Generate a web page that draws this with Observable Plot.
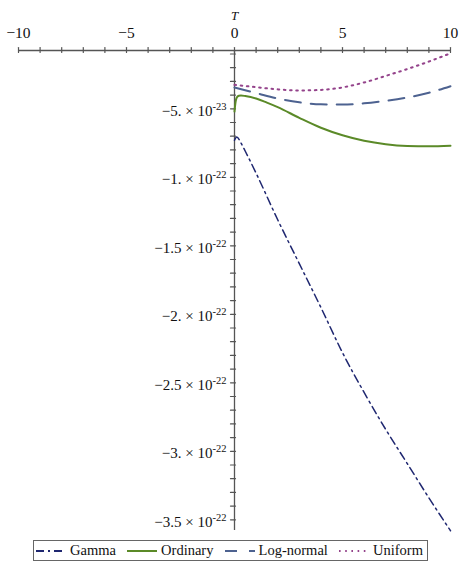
<!DOCTYPE html>
<html>
<head>
<meta charset="utf-8">
<script src="https://cdn.jsdelivr.net/npm/d3@7"></script>
<script src="https://cdn.jsdelivr.net/npm/@observablehq/plot@0.6"></script>
<style>
  body { margin: 0; background: #fff; font-family: "Liberation Serif", "Times New Roman", serif; }
  #chart svg { display: block; }
  #legend {
    box-sizing: border-box;
    width: 395px; height: 21px; margin: 4px 0 0 33px;
    border: 1px solid #666;
    display: flex; align-items: center; justify-content: space-between;
    padding: 0 4px 0 2px;
    font-size: 14.5px; color: #111; white-space: nowrap;
  }
  #legend .item { display: flex; align-items: center; }
  #legend svg { display: block; margin-right: 4px; }
</style>
</head>
<body>
<div id="chart"></div>
<div id="legend"></div>
<script>
// ---------- data ----------
const seriesNames = ["Gamma", "Ordinary", "Log-normal", "Uniform"];

const gammaT = [0, 0.1, 0.3, 0.5, 1, 2, 3, 4, 5, 6, 7, 8, 9, 10];
const gammaV = [-7.3e-23, -7.05e-23, -7.5e-23, -8.1e-23, -9.7e-23, -13.1e-23, -16.3e-23, -19.5e-23,
                -22.8e-23, -25.7e-23, -28.4e-23, -30.9e-23, -33.4e-23, -35.8e-23];

const ordinaryT = [0, 0.05, 0.1, 0.2, 0.3, 0.5, 1, 1.5, 2, 3, 4, 5, 6, 7, 8, 9, 10];
const ordinaryV = [-5.2e-23, -4.5e-23, -4.2e-23, -4.05e-23, -4.03e-23, -4.07e-23, -4.25e-23, -4.55e-23,
                   -4.88e-23, -5.66e-23, -6.38e-23, -6.93e-23, -7.33e-23, -7.58e-23, -7.71e-23, -7.74e-23, -7.70e-23];

const lognormalT = [0, 1, 2, 3, 4, 5, 6, 7, 8, 9, 10];
const lognormalV = [-3.45e-23, -3.85e-23, -4.25e-23, -4.53e-23, -4.67e-23, -4.69e-23,
                    -4.60e-23, -4.42e-23, -4.18e-23, -3.83e-23, -3.35e-23];

const uniformT = [0, 1, 2, 3, 4, 5, 6, 7, 8, 9, 10];
const uniformV = [-3.25e-23, -3.42e-23, -3.58e-23, -3.66e-23, -3.62e-23, -3.44e-23,
                  -3.08e-23, -2.60e-23, -2.10e-23, -1.55e-23, -0.95e-23];

// axis ticks and labels
const xMajorTicks = [-10, -5, 0, 5, 10];
const xTickLabels = ["\u221210", "\u22125", "0", "5", "10"];
const xMinorTicks = d3.range(-10, 10.5, 1);
const yMajorTicks = [-5e-23, -10e-23, -15e-23, -20e-23, -25e-23, -30e-23, -35e-23];
const yTickLabels = ["\u22125. \u00d7 10^-23", "\u22121. \u00d7 10^-22", "\u22121.5 \u00d7 10^-22",
                     "\u22122. \u00d7 10^-22", "\u22122.5 \u00d7 10^-22", "\u22123. \u00d7 10^-22", "\u22123.5 \u00d7 10^-22"];
const yMinorTicks = d3.range(1, 36).map(i => -i * 1e-23);
const xAxisLabel = "T";

// ---------- styles ----------
const styles = {
  "Gamma":      {stroke: "#1f2770", strokeWidth: 1.5, dash: "8,4,2,4"},
  "Ordinary":   {stroke: "#5b8a28", strokeWidth: 2,   dash: null},
  "Log-normal": {stroke: "#4d6290", strokeWidth: 2,   dash: "16,10"},
  "Uniform":    {stroke: "#94438b", strokeWidth: 2,   dash: "1.6,4.6"}
};

const zip = (ts, vs) => ts.map((t, i) => ({t, v: vs[i]}));
const seriesData = {
  "Gamma": zip(gammaT, gammaV),
  "Ordinary": zip(ordinaryT, ordinaryV),
  "Log-normal": zip(lognormalT, lognormalV),
  "Uniform": zip(uniformT, uniformV)
};

const yTop = -0.745e-23, yBottom = -35.78e-23;
const axisColor = "#555";
const tickShapeX = {draw(ctx) { ctx.moveTo(0, 2); ctx.lineTo(0, -3); }};
const tickShapeY = {draw(ctx) { ctx.moveTo(1, 0); ctx.lineTo(-4, 0); }};
const font = '"Liberation Serif", "Times New Roman", serif';

const lineMarks = seriesNames.map(name => Plot.line(seriesData[name], {
  x: "t", y: "v", curve: "monotone-x",
  stroke: styles[name].stroke, strokeWidth: styles[name].strokeWidth,
  strokeDasharray: styles[name].dash || undefined
}));

const chart = Plot.plot({
  width: 463, height: 536,
  marginTop: 50, marginBottom: 6, marginLeft: 18, marginRight: 13,
  x: {domain: [-10, 10], axis: null},
  y: {domain: [yBottom, yTop], axis: null},
  style: {fontFamily: font, background: "#fff", overflow: "visible", color: "#111"},
  marks: [
    Plot.ruleY([yTop], {stroke: axisColor, strokeWidth: 1.3}),
    Plot.ruleX([0], {stroke: axisColor, strokeWidth: 1.3}),
    Plot.vector(xMinorTicks, {x: d => d, y: () => yTop, anchor: "start", length: 5, shape: tickShapeX, stroke: axisColor, strokeWidth: 1.2}),
    Plot.vector(yMinorTicks, {x: () => 0, y: d => d, anchor: "start", length: 5, shape: tickShapeY, stroke: axisColor, strokeWidth: 1.2}),
    Plot.text(xMajorTicks, {x: d => d, y: () => yTop, dy: -17, text: (d, i) => xTickLabels[i], fontSize: 15.5, fill: "#111"}),
    Plot.text([xAxisLabel], {x: () => 0, y: () => yTop, dy: -35, text: d => d, fontSize: 13, fontStyle: "italic", fill: "#111"}),
    Plot.text(yMajorTicks, {x: () => 0, y: d => d, dx: -8, dy: 2, textAnchor: "end", text: (d, i) => yTickLabels[i], fontSize: 15, fill: "#111"}),
    ...lineMarks
  ]
});

// superscript exponents as real text
const SVGNS = "http://www.w3.org/2000/svg";
chart.querySelectorAll("text").forEach(t => {
  const s = t.textContent;
  if (s.includes("^")) {
    const [base, exp] = s.split("^");
    t.textContent = base;
    const ts = document.createElementNS(SVGNS, "tspan");
    ts.setAttribute("dy", "-6");
    ts.setAttribute("font-size", "10.5");
    ts.textContent = exp;
    t.appendChild(ts);
  }
});
document.getElementById("chart").appendChild(chart);

// legend
const legend = document.getElementById("legend");
seriesNames.forEach(name => {
  const st = styles[name];
  const item = document.createElement("div");
  item.className = "item";
  const sw = document.createElementNS(SVGNS, "svg");
  sw.setAttribute("width", 30); sw.setAttribute("height", 10);
  const ln = document.createElementNS(SVGNS, "line");
  ln.setAttribute("x1", 0); ln.setAttribute("x2", 30); ln.setAttribute("y1", 5); ln.setAttribute("y2", 5);
  ln.setAttribute("stroke", st.stroke); ln.setAttribute("stroke-width", 2);
  if (st.dash) ln.setAttribute("stroke-dasharray", name === "Log-normal" ? "12,12" : st.dash);
  sw.appendChild(ln);
  const lab = document.createElement("span");
  lab.textContent = name;
  item.appendChild(sw); item.appendChild(lab);
  legend.appendChild(item);
});
</script>
</body>
</html>
